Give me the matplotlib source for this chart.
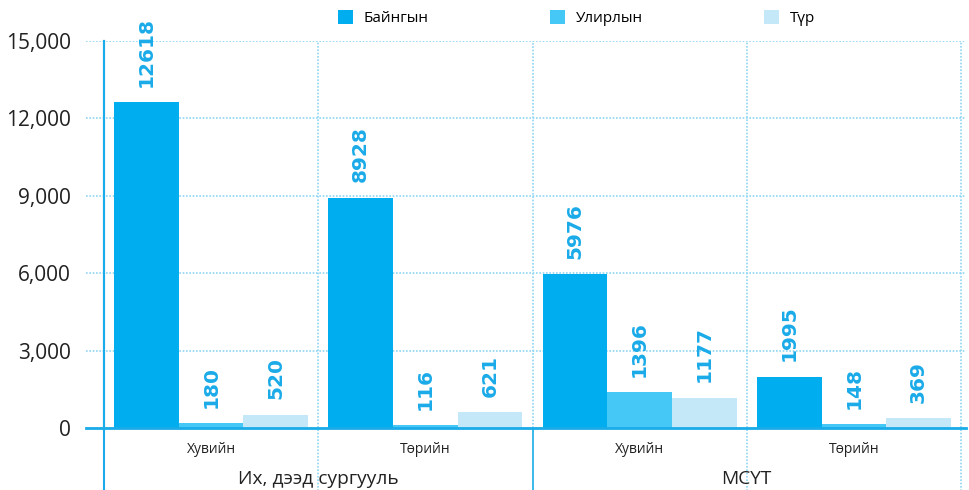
import matplotlib.pyplot as plt
import numpy as np

plt.rcParams['font.family'] = ['Open Sans', 'DejaVu Sans']

# data
groups = ['Их, дээд сургууль', 'МСҮТ']
subcats = ['Хувийн', 'Төрийн', 'Хувийн', 'Төрийн']
series = ['Байнгын', 'Улирлын', 'Түр']
bayngyn = [12618, 8928, 5976, 1995]
ulirlyn = [180, 116, 1396, 148]
tur = [520, 621, 1177, 369]
yticks = [0, 3000, 6000, 9000, 12000, 15000]

colors = ['#00aeef', '#45c8f5', '#c5e8f8']
blue = '#1aabe8'
grid_c = '#8fd6f3'

fig = plt.figure(figsize=(9.69, 4.9), dpi=100)
ax = fig.add_axes([86/969, 62/490, 880/969, 387/490])

x = np.arange(len(subcats))
w = 0.302
vals = [bayngyn, ulirlyn, tur]
for i, (name, v) in enumerate(zip(series, vals)):
    xs = x + (i - 1) * w
    ax.bar(xs, v, width=w, color=colors[i], label=name, zorder=3)
    for xi, vi in zip(xs, v):
        ax.annotate(str(vi), (xi, vi), xytext=(0, 11), textcoords='offset points',
                    rotation=90, ha='center', va='bottom', color=blue,
                    fontsize=14.5, fontweight='bold', family='DejaVu Sans', zorder=4)

ax.set_xlim(-0.5 - 18/214.25, 3.5 + 5/214.25)
ax.set_ylim(0, 15000)
ax.set_yticks(yticks)
ax.set_yticklabels([f'{t:,}' for t in yticks])
ax.yaxis.grid(True, color=grid_c, linestyle=(0, (1, 1)), linewidth=1.2, zorder=0)

for s in ['top', 'right']:
    ax.spines[s].set_visible(False)
ax.spines['left'].set_position(('data', -0.5))
ax.spines['left'].set_color(blue)
ax.spines['left'].set_linewidth(1.5)
ax.spines['bottom'].set_color(blue)
ax.spines['bottom'].set_linewidth(2)
ax.spines['bottom'].set_zorder(5)
ax.tick_params(axis='y', length=0, pad=24, labelsize=15, labelcolor='#222222')
ax.tick_params(axis='x', length=0, pad=10, labelsize=10, labelcolor='#222222')
ax.set_xticks(x)
ax.set_xticklabels(subcats)

# separators / vertical grid
trans = ax.get_xaxis_transform()
low = -80/387
ax.plot([-0.5, -0.5], [low, 1], transform=trans, color=blue, lw=1.5, clip_on=False)
ax.plot([1.5, 1.5], [low, 0], transform=trans, color=blue, lw=1.2, clip_on=False)
ax.plot([1.5, 1.5], [0, 1], transform=trans, color=grid_c, lw=1.2,
        linestyle=(0, (1, 1)), clip_on=False, zorder=0)
for xv in [0.5, 2.5, 3.5]:
    ax.plot([xv, xv], [low, 1], transform=trans, color=grid_c, lw=1.2,
            linestyle=(0, (1, 1)), clip_on=False, zorder=0)

for gi, g in enumerate(groups):
    ax.text(0.5 + 2*gi, -51/387, g, transform=trans, ha='center', va='center',
            fontsize=13.8, color='#222222')

ax.legend(loc='center', bbox_to_anchor=(0.5 + 40/969 + 14/880, 1 + 23/387), ncol=3,
          frameon=False, handlelength=1, handleheight=1, columnspacing=7.93,
          handletextpad=0.7, fontsize=11, borderaxespad=0)

fig.savefig('out.png', dpi=100)
